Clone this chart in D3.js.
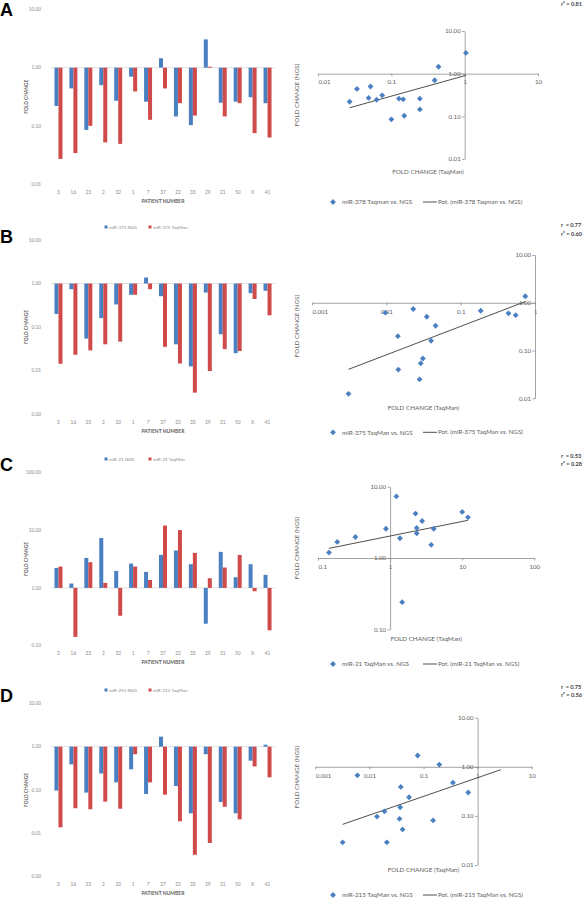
<!DOCTYPE html>
<html>
<head>
<meta charset="utf-8">
<script src="https://cdn.jsdelivr.net/npm/d3@7"></script>
<style>
body{margin:0;background:#fff}
svg{display:block;font-family:Lato,"Open Sans",sans-serif}
</style>
</head>
<body>
<svg id="fig" width="585" height="906"></svg>
<script>
// patient order on all bar charts
var patients = ["3","16","23","2","32","1","7","37","22","33","29","21","50","X","41"];

// fold changes (NGS blue, TaqMan red); scatter uses the same pairs
var ngs378 = [0.22,0.44,0.085,0.50,0.27,0.70,0.26,1.45,0.145,0.103,3.06,0.25,0.26,0.31,0.245];
var taq378 = [0.027,0.034,0.10,0.052,0.049,0.39,0.127,0.44,0.245,0.15,1.04,0.145,0.245,0.075,0.063];
var ngs375 = [0.20,0.74,0.054,0.16,0.33,0.55,1.37,0.51,0.040,0.0124,0.62,0.068,0.025,0.60,0.68];
var taq375 = [0.0143,0.023,0.029,0.040,0.046,0.55,0.74,0.035,0.0145,0.0031,0.0097,0.031,0.028,0.44,0.186];
var ngs21 = [2.22,1.19,3.3,7.3,1.97,2.64,1.89,3.72,4.43,2.57,0.24,4.2,1.53,2.57,1.68];
var taq21 = [2.34,0.142,2.78,1.22,0.33,2.34,1.37,12.0,10.0,4.03,1.47,2.25,3.72,0.875,0.185];
var ngs215 = [0.097,0.39,0.087,0.24,0.15,0.30,0.081,1.7,0.124,0.029,0.67,0.053,0.029,0.475,1.11];
var taq215 = [0.0138,0.038,0.036,0.054,0.037,0.67,0.15,0.078,0.019,0.0032,0.006,0.041,0.021,0.35,0.196];

// tick values
var barTicksA = [10,1,0.1,0.01];
var barTicksB = [10,1,0.1,0.01,0.001];
var barTicksC = [100,10,1,0.1];
var barTicksD = [10,1,0.1,0.01,0.001];
var scXTicksA = [0.01,0.1,1,10], scYTicksA = [10,1,0.1,0.01];
var scXTicksB = [0.001,0.01,0.1,1], scYTicksB = [10,1,0.1,0.01];
var scXTicksC = [0.1,1,10,100], scYTicksC = [10,1,0.1];
var scXTicksD = [0.001,0.01,0.1,1,10], scYTicksD = [10,1,0.1,0.01];

// correlation labels
var rA = ["r² = 0.81"];
var rB = ["r  = 0.77","r² = 0.60"];
var rC = ["r  = 0.53","r² = 0.28"];
var rD = ["r  = 0.75","r² = 0.56"];

var blue = "#4a80c2", red = "#cf4a4b";
var grey = "#8a8a8a", dark = "#606060";

var panels = [
  {letter:"A", letterY:16, mir:"miR-378", tq:"Taqman", ngs:ngs378, taq:taq378, barTicks:barTicksA,
   barTop:9.5, barBottom:184, barLegY:null, scX:scXTicksA, scY:scYTicksA, sx:[318,538], sy:[159,31],
   titleY:172, ngsTitleY:95, legY:202, r:rA, rY:[6], fwd:0},
  {letter:"B", letterY:242.5, mir:"miR-375", tq:"TaqMan", ngs:ngs375, taq:taq375, barTicks:barTicksB,
   barTop:240, barBottom:414, barLegY:227, scX:scXTicksB, scY:scYTicksB, sx:[312,535], sy:[398.3,255],
   titleY:407.7, ngsTitleY:326, legY:432.3, r:rB, rY:[227,236], fwd:0},
  {letter:"C", letterY:471, mir:"miR-21", tq:"TaqMan", ngs:ngs21, taq:taq21, barTicks:barTicksC,
   barTop:472.3, barBottom:645.7, barLegY:459, scX:scXTicksC, scY:scYTicksC, sx:[318,534.3], sy:[629.3,486.7],
   titleY:639, ngsTitleY:548, legY:664, r:rC, rY:[457.7,466.3], fwd:0},
  {letter:"D", letterY:702, mir:"miR-215", tq:"TaqMan", ngs:ngs215, taq:taq215, barTicks:barTicksD,
   barTop:703.3, barBottom:876.7, barLegY:690, scX:scXTicksD, scY:scYTicksD, sx:[315.3,531.7], sy:[865,717.7],
   titleY:870, ngsTitleY:777, legY:895, r:rD, rY:[689.3,697], fwd:2}
];

var svg = d3.select("#fig");
var x = d3.scaleBand().domain(patients).range([51, 275]);
var bw = 4;

panels.forEach(function(p) {
  // panel letter
  svg.append("text").attr("x", 0).attr("y", p.letterY)
    .attr("font-family", "'Liberation Sans',Arial,sans-serif")
    .attr("font-size", 18).attr("font-weight", "bold").text(p.letter);

  // ---- bar chart ----
  var g = svg.append("g");
  var y = d3.scaleLog().domain(d3.extent(p.barTicks)).range([p.barBottom, p.barTop]);
  var y1 = y(1);

  g.selectAll(".yl").data(p.barTicks).enter().append("text")
    .attr("x", 41).attr("y", function(d) { return y(d); }).attr("dy", "0.35em")
    .attr("text-anchor", "end").attr("font-size", 4.8).attr("fill", grey)
    .text(d3.format(".2f"));

  g.append("line").attr("x1", 51).attr("x2", 275).attr("y1", y1).attr("y2", y1)
    .attr("stroke", "#d9d9d9").attr("stroke-width", 0.8);

  var rows = patients.map(function(k, i) { return {k:k, n:p.ngs[i], t:p.taq[i]}; });
  var grp = g.selectAll(".grp").data(rows).enter().append("g")
    .attr("transform", function(d) { return "translate(" + (x(d.k) + x.bandwidth()/2) + ",0)"; });
  grp.append("rect").attr("x", -bw).attr("width", bw)
    .attr("y", function(d) { return Math.min(y(d.n), y1); })
    .attr("height", function(d) { return Math.abs(y(d.n) - y1); })
    .attr("fill", blue);
  grp.append("rect").attr("x", 0).attr("width", bw)
    .attr("y", function(d) { return Math.min(y(d.t), y1); })
    .attr("height", function(d) { return Math.abs(y(d.t) - y1); })
    .attr("fill", red);
  grp.append("text").attr("y", p.barBottom + 8).attr("dy", "0.35em")
    .attr("text-anchor", "middle").attr("font-size", 4.8).attr("fill", grey)
    .text(function(d) { return d.k; });

  g.append("text").attr("x", 163).attr("y", p.barBottom + 17).attr("dy", "0.35em")
    .attr("text-anchor", "middle").attr("font-size", 5).attr("font-weight", "bold").attr("fill", dark)
    .text("PATIENT NUMBER");
  g.append("text").attr("transform", "translate(26," + (p.barTop + p.barBottom)/2 + ") rotate(-90)")
    .attr("dy", "0.35em").attr("text-anchor", "middle").attr("font-size", 4.8)
    .attr("font-weight", "bold").attr("fill", dark).text("FOLD CHANGE");

  if (p.barLegY !== null) {
    var lg = g.append("g");
    lg.append("rect").attr("x", 104.5).attr("y", p.barLegY - 1.5).attr("width", 3).attr("height", 3).attr("fill", blue);
    lg.append("text").attr("x", 109).attr("y", p.barLegY).attr("dy", "0.35em")
      .attr("font-size", 4.6).attr("fill", grey).text(p.mir + " NGS");
    lg.append("rect").attr("x", 148.5).attr("y", p.barLegY - 1.5).attr("width", 3).attr("height", 3).attr("fill", red);
    lg.append("text").attr("x", 153).attr("y", p.barLegY).attr("dy", "0.35em")
      .attr("font-size", 4.6).attr("fill", grey).text(p.mir + " TaqMan");
  }

  // ---- scatter ----
  var s = svg.append("g");
  var sx = d3.scaleLog().domain(d3.extent(p.scX)).range(p.sx);
  var sy = d3.scaleLog().domain(d3.extent(p.scY)).range(p.sy);
  var ax = sx(1), ay = sy(1);

  var xAxis = s.append("g").attr("transform", "translate(0," + ay + ")")
    .call(d3.axisBottom(sx).tickValues(p.scX).tickFormat(d3.format("~g")).tickSize(2.5).tickSizeOuter(0).tickPadding(4));
  xAxis.selectAll("text").filter(function(d, i) { return i === 0; }).attr("text-anchor", "start");
  var yAxis = s.append("g").attr("transform", "translate(" + ax + ",0)")
    .call(d3.axisLeft(sy).tickValues(p.scY).tickFormat(d3.format(".2f")).tickSize(2.5).tickSizeOuter(0).tickPadding(1.5));
  [xAxis, yAxis].forEach(function(a) {
    a.attr("font-family", null).attr("font-size", 6.1);
    a.select(".domain").attr("stroke", "#8c8c8c").attr("stroke-width", 0.8);
    a.selectAll(".tick line").attr("stroke", "#8c8c8c").attr("stroke-width", 0.8);
    a.selectAll(".tick text").attr("fill", dark);
  });

  // power trend line (least squares in log-log space)
  var lx = p.taq.map(Math.log10), ly = p.ngs.map(Math.log10);
  var mx = d3.mean(lx), my = d3.mean(ly);
  var b = d3.sum(lx, function(v, i) { return (v - mx) * (ly[i] - my); }) / d3.sum(lx, function(v) { return (v - mx) * (v - mx); });
  var la = my - b * mx;
  var tx0 = d3.min(p.taq), tx1 = d3.max(p.taq) + p.fwd;
  s.append("line")
    .attr("x1", sx(tx0)).attr("y1", sy(Math.pow(10, la + b * Math.log10(tx0))))
    .attr("x2", sx(tx1)).attr("y2", sy(Math.pow(10, la + b * Math.log10(tx1))))
    .attr("stroke", "#3a3a3a").attr("stroke-width", 0.9);

  var diamond = d3.symbol(d3.symbolSquare, 17);
  s.selectAll(".pt").data(rows).enter().append("path")
    .attr("d", diamond).attr("fill", blue)
    .attr("transform", function(d) { return "translate(" + sx(d.t) + "," + sy(d.n) + ") rotate(45)"; });

  s.append("text").attr("x", (p.sx[0] + p.sx[1]) / 2).attr("y", p.titleY).attr("dy", "0.35em")
    .attr("text-anchor", "middle").attr("font-size", 6.3).attr("fill", dark).text("FOLD CHANGE (TaqMan)");
  s.append("text").attr("transform", "translate(297," + p.ngsTitleY + ") rotate(-90)")
    .attr("dy", "0.35em").attr("text-anchor", "middle").attr("font-size", 6.3).attr("fill", dark)
    .text("FOLD CHANGE (NGS)");

  // legend
  s.append("path").attr("d", diamond).attr("fill", blue)
    .attr("transform", "translate(333," + p.legY + ") rotate(45)");
  s.append("text").attr("x", 342).attr("y", p.legY).attr("dy", "0.35em").attr("font-size", 6.3)
    .attr("fill", dark).text(p.mir + " " + p.tq + " vs. NGS");
  s.append("line").attr("x1", 423).attr("x2", 437).attr("y1", p.legY).attr("y2", p.legY)
    .attr("stroke", "#3a3a3a").attr("stroke-width", 0.9);
  s.append("text").attr("x", 438).attr("y", p.legY).attr("dy", "0.35em").attr("font-size", 6.2)
    .attr("fill", dark).text("Pot. (" + p.mir + " " + p.tq + " vs. NGS)");

  // r / r² labels
  p.r.forEach(function(t, i) {
    svg.append("text").attr("x", 561).attr("y", p.rY[i]).attr("font-size", 5.6)
      .attr("font-weight", "bold").attr("fill", "#404040").attr("xml:space", "preserve").text(t);
  });
});
</script>
</body>
</html>
